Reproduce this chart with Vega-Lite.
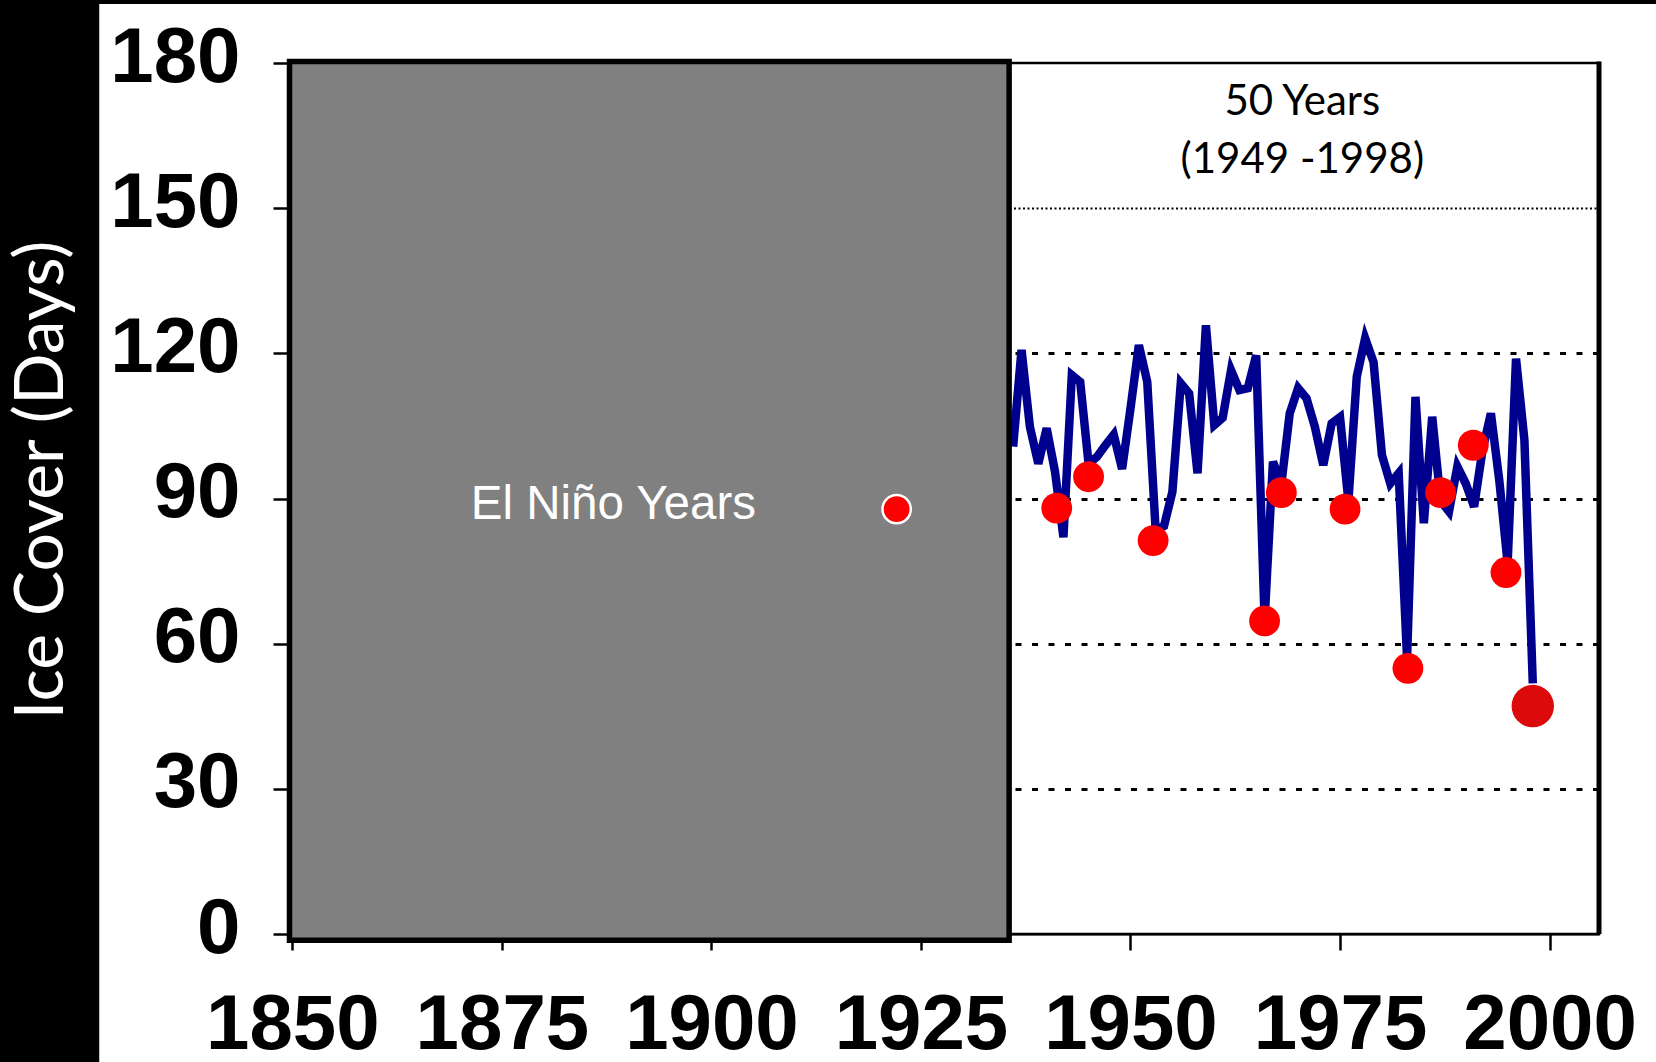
{
  "$schema": "https://vega.github.io/schema/vega-lite/v6.json",
  "autosize": {"type": "none"},
  "width": 1310,
  "height": 871,
  "padding": {"left": 289, "top": 63, "right": 57, "bottom": 128},
  "background": "white",
  "config": {"view": {"stroke": "black", "strokeWidth": 2.5}},
  "datasets": {
    "ice": [
      {"year": 1936, "days": 100.7}, {"year": 1937, "days": 120.7}, {"year": 1938, "days": 104.8},
      {"year": 1939, "days": 97.2}, {"year": 1940, "days": 104.5}, {"year": 1941, "days": 95.5},
      {"year": 1942, "days": 82.0}, {"year": 1943, "days": 115.5}, {"year": 1944, "days": 114.1},
      {"year": 1945, "days": 97.2}, {"year": 1946, "days": 98.6}, {"year": 1947, "days": 101.0},
      {"year": 1948, "days": 103.2}, {"year": 1949, "days": 96.1}, {"year": 1950, "days": 108.6},
      {"year": 1951, "days": 121.7}, {"year": 1952, "days": 114.1}, {"year": 1953, "days": 83.5},
      {"year": 1954, "days": 84.3}, {"year": 1955, "days": 91.4}, {"year": 1956, "days": 113.8},
      {"year": 1957, "days": 111.7}, {"year": 1958, "days": 95.2}, {"year": 1959, "days": 125.8},
      {"year": 1960, "days": 105.2}, {"year": 1961, "days": 106.7}, {"year": 1962, "days": 116.5},
      {"year": 1963, "days": 112.4}, {"year": 1964, "days": 112.8}, {"year": 1965, "days": 119.6},
      {"year": 1966, "days": 64.9}, {"year": 1967, "days": 97.6}, {"year": 1968, "days": 93.0},
      {"year": 1969, "days": 107.6}, {"year": 1970, "days": 112.8}, {"year": 1971, "days": 110.7},
      {"year": 1972, "days": 104.8}, {"year": 1973, "days": 96.9}, {"year": 1974, "days": 105.5},
      {"year": 1975, "days": 106.8}, {"year": 1976, "days": 89.5}, {"year": 1977, "days": 115.2},
      {"year": 1978, "days": 123.1}, {"year": 1979, "days": 118.2}, {"year": 1980, "days": 99.0},
      {"year": 1981, "days": 93.1}, {"year": 1982, "days": 95.2}, {"year": 1983, "days": 57.0},
      {"year": 1984, "days": 111.0}, {"year": 1985, "days": 84.9}, {"year": 1986, "days": 106.9},
      {"year": 1987, "days": 89.5}, {"year": 1988, "days": 87.3}, {"year": 1989, "days": 96.6},
      {"year": 1990, "days": 93.1}, {"year": 1991, "days": 88.3}, {"year": 1992, "days": 100.0},
      {"year": 1993, "days": 107.6}, {"year": 1994, "days": 93.8}, {"year": 1995, "days": 76.6},
      {"year": 1996, "days": 118.9}, {"year": 1997, "days": 102.1}, {"year": 1998, "days": 51.8}
    ],
    "elnino": [
      {"year": 1941.2, "days": 88.0}, {"year": 1945.0, "days": 94.5}, {"year": 1952.7, "days": 81.3},
      {"year": 1966.0, "days": 64.7}, {"year": 1968.0, "days": 91.2}, {"year": 1975.6, "days": 87.8},
      {"year": 1983.1, "days": 54.9}, {"year": 1987.0, "days": 91.2}, {"year": 1990.9, "days": 101.0},
      {"year": 1994.8, "days": 74.7}, {"year": 1998.0, "days": 47.1}
    ],
    "period": [{"from": 1849.66, "to": 1935.52, "low": -1.3, "high": 180.3}],
    "legendDot": [{"year": 1922.1, "days": 87.8}],
    "legendText": [{"year": 1888.3, "days": 85.7, "label": "El Niño Years"}],
    "note": [
      {"year": 1970.5, "days": 169.2, "label": "50 Years"},
      {"year": 1970.5, "days": 157.2, "label": "(1949 -1998)"}
    ],
    "ytitle": [{"year": 1822.6, "days": 93.8, "label": "Ice Cover (Days)"}],
    "one": [{}]
  },
  "layer": [
    {
      "data": {"name": "ice"},
      "mark": {"type": "line", "color": "#00008f", "strokeWidth": 8.5},
      "encoding": {
        "x": {
          "field": "year", "type": "quantitative", "title": null,
          "scale": {"domain": [1849.6, 2005.9], "nice": false, "zero": false},
          "axis": {
            "values": [1850, 1875, 1900, 1925, 1950, 1975, 2000],
            "format": "d", "title": null, "grid": false,
            "labelFont": "Liberation Sans", "labelFontWeight": "bold", "labelFontSize": 78,
            "labelColor": "black", "labelPadding": 36, "labelFlush": false, "labelOverlap": false,
            "tickSize": 16, "tickWidth": 2.5, "tickColor": "black",
            "domainColor": "black", "domainWidth": 2
          }
        },
        "y": {
          "field": "days", "type": "quantitative", "title": null,
          "scale": {"domain": [0, 180], "nice": false, "zero": false},
          "axis": {
            "values": [0, 30, 60, 90, 120, 150, 180],
            "title": null,
            "labelFont": "Liberation Sans", "labelFontWeight": "bold", "labelFontSize": 78,
            "labelColor": "black", "labelPadding": 33, "labelOffset": -5, "labelOverlap": false,
            "tickSize": 16, "tickWidth": 2.5, "tickColor": "black",
            "domainColor": "black", "domainWidth": 2,
            "grid": true, "gridColor": "black",
            "gridDash": {"condition": {"test": "datum.value === 150", "value": [2, 2.5]}, "value": [6, 10.5]},
            "gridWidth": {"condition": {"test": "datum.value === 150", "value": 2}, "value": 3},
            "gridOpacity": {"condition": {"test": "datum.value === 0 || datum.value === 180", "value": 0}, "value": 1}
          }
        }
      }
    },
    {
      "data": {"name": "elnino"},
      "transform": [{"filter": "datum.year < 1998"}],
      "mark": {"type": "circle", "color": "#ff0000", "opacity": 1, "size": 950},
      "encoding": {
        "x": {"field": "year", "type": "quantitative", "title": null},
        "y": {"field": "days", "type": "quantitative", "title": null}
      }
    },
    {
      "data": {"name": "elnino"},
      "transform": [{"filter": "datum.year >= 1998"}],
      "mark": {"type": "circle", "color": "#dc0a0a", "opacity": 1, "size": 1800},
      "encoding": {
        "x": {"field": "year", "type": "quantitative", "title": null},
        "y": {"field": "days", "type": "quantitative", "title": null}
      }
    },
    {
      "data": {"name": "period"},
      "mark": {"type": "rect", "fill": "#808080", "stroke": "black", "strokeWidth": 5.5},
      "encoding": {
        "x": {"field": "from", "type": "quantitative", "title": null},
        "x2": {"field": "to"},
        "y": {"field": "low", "type": "quantitative", "title": null},
        "y2": {"field": "high"}
      }
    },
    {
      "data": {"name": "legendDot"},
      "mark": {"type": "circle", "color": "#ff0000", "opacity": 1, "size": 800, "stroke": "white", "strokeWidth": 2.5},
      "encoding": {
        "x": {"field": "year", "type": "quantitative", "title": null},
        "y": {"field": "days", "type": "quantitative", "title": null}
      }
    },
    {
      "data": {"name": "legendText"},
      "mark": {"type": "text", "color": "white", "font": "Liberation Sans", "fontSize": 47.5, "align": "center", "baseline": "alphabetic"},
      "encoding": {
        "x": {"field": "year", "type": "quantitative", "title": null},
        "y": {"field": "days", "type": "quantitative", "title": null},
        "text": {"field": "label"}
      }
    },
    {
      "data": {"name": "note"},
      "mark": {"type": "text", "color": "black", "font": "Lato", "fontSize": 42, "align": "center", "baseline": "alphabetic"},
      "encoding": {
        "x": {"field": "year", "type": "quantitative", "title": null},
        "y": {"field": "days", "type": "quantitative", "title": null},
        "text": {"field": "label"}
      }
    },
    {
      "data": {"name": "one"},
      "mark": {"type": "rule", "color": "black", "strokeWidth": 5},
      "encoding": {
        "x": {"datum": 2005.9, "type": "quantitative", "title": null},
        "y": {"datum": 0, "type": "quantitative", "title": null},
        "y2": {"datum": 180.3}
      }
    },
    {
      "data": {"name": "one"},
      "mark": {"type": "rect", "fill": "black"},
      "encoding": {
        "x": {"datum": 1700, "type": "quantitative", "title": null},
        "x2": {"datum": 1826.96},
        "y": {"datum": -100, "type": "quantitative", "title": null},
        "y2": {"datum": 300}
      }
    },
    {
      "data": {"name": "one"},
      "mark": {"type": "rect", "fill": "black"},
      "encoding": {
        "x": {"datum": 1700, "type": "quantitative", "title": null},
        "x2": {"datum": 2100},
        "y": {"datum": 192.2, "type": "quantitative", "title": null},
        "y2": {"datum": 300}
      }
    },
    {
      "data": {"name": "ytitle"},
      "mark": {"type": "text", "color": "white", "font": "Lato", "fontSize": 68, "angle": 270, "align": "center", "baseline": "alphabetic"},
      "encoding": {
        "x": {"field": "year", "type": "quantitative", "title": null},
        "y": {"field": "days", "type": "quantitative", "title": null},
        "text": {"field": "label"}
      }
    }
  ]
}
